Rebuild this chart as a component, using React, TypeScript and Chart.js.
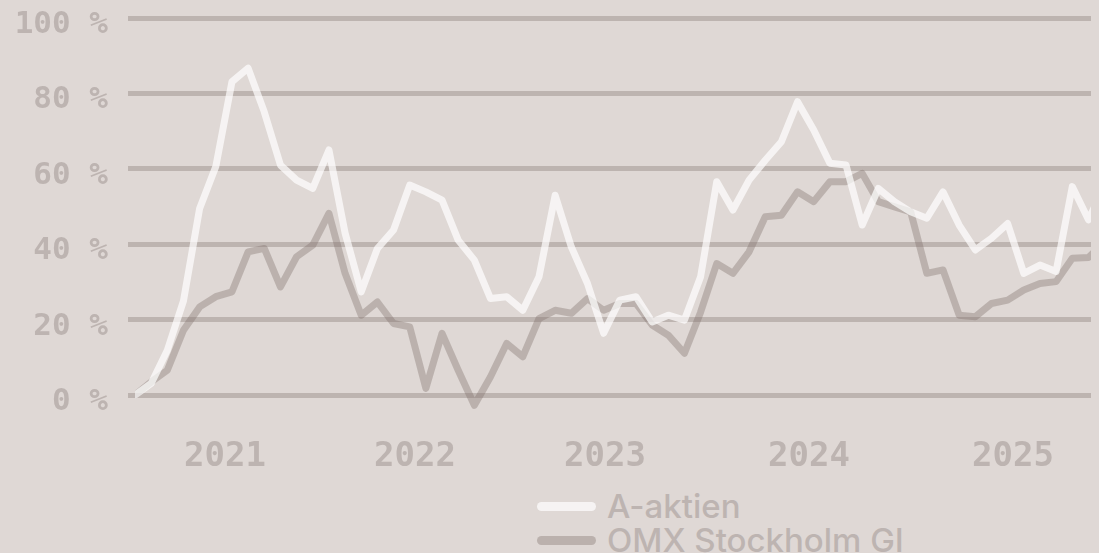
import React, { useEffect, useRef } from "react";
import { Chart, registerables } from "chart.js";

Chart.register(...registerables);

// ---- data (cumulative return, %) ----
const seriesNames = ["A-aktien", "OMX Stockholm GI"];

const aktienValues = [
  0, 3.1, 11.9, 25, 49.5, 60.6, 83.1, 86.7, 75.1, 61.0,
  57.0, 54.8, 65.0, 43, 27.4, 38.9, 43.8, 55.7, 53.9, 51.7,
  41.1, 35.8, 25.6, 26.1, 22.5, 31.4, 53.0, 39.3, 29.6, 16.4,
  25.2, 26.1, 19.4, 21.2, 19.9, 31.4, 56.6, 49.1, 57.0, 62.3,
  67.2, 77.8, 70.3, 61.5, 61.0, 45.1, 54.8, 51.3, 48.6, 46.9,
  53.9, 45.1, 38.5, 41.6, 45.5, 32.3, 34.5, 32.8, 55.3, 46.5,
  55.5,
];

const omxValues = [
  0, 3.5, 6.6, 17.2, 23.4, 26.1, 27.4, 38.0, 38.9, 28.7,
  36.7, 39.8, 48.2, 32.3, 21.2, 24.7, 19.0, 18.1, 1.8, 16.4,
  6.6, -2.7, 4.9, 13.7, 10.2, 20.3, 22.5, 21.7, 25.6, 22.5,
  24.3, 24.3, 18.6, 15.9, 11.1, 22, 34.9, 32.3, 38.0, 47.3,
  47.7, 53.9, 51.3, 56.6, 56.6, 58.8, 51.3, 49.9, 48.6, 32.3,
  33.2, 21.2, 20.8, 24.3, 25.2, 27.9, 29.6, 30.1, 36.3, 36.5,
  40.6,
];

// x-axis year labels and where they sit along the (monthly) index axis
const yearTickLabels = ["2021", "2022", "2023", "2024", "2025"];
const yearTickPositions = [5.57, 17.33, 29.08, 41.71, 54.33];
const xAxisMax = 75;

// y-axis ticks
const yTickValues = [0, 20, 40, 60, 80, 100];
const yMin = -5;
const yMax = 100;

// ---- styles ----
const BG = "#dfd8d5";
const TEXT = "#bdb4b1";
const GRID = "rgba(120,105,100,0.33)";
const WHITE_LINE = "rgba(255,255,255,0.7)";
const GRAY_LINE = "rgba(120,105,100,0.35)";
const seriesColors = [WHITE_LINE, GRAY_LINE];

export default function App() {
  const canvasRef = useRef<HTMLCanvasElement | null>(null);

  useEffect(() => {
    document.documentElement.style.background = BG;
    document.body.style.background = BG;
    const canvas = canvasRef.current;
    if (!canvas) return;
    const chart = new Chart(canvas, {
      type: "line",
      data: {
        datasets: [
          {
            label: seriesNames[0],
            data: aktienValues.map((v, i) => ({ x: i, y: v })),
            borderColor: seriesColors[0],
            borderWidth: 7,
            pointRadius: 0,
            tension: 0,
            borderCapStyle: "round",
            borderJoinStyle: "round",
          },
          {
            label: seriesNames[1],
            data: omxValues.map((v, i) => ({ x: i, y: v })),
            borderColor: seriesColors[1],
            borderWidth: 7,
            pointRadius: 0,
            tension: 0,
            borderCapStyle: "round",
            borderJoinStyle: "round",
          },
        ],
      },
      options: {
        animation: false,
        responsive: false,
        events: [],
        layout: { padding: { top: 10, right: 12, left: 0, bottom: 0 } },
        plugins: {
          legend: { display: false },
          tooltip: { enabled: false },
        },
        scales: {
          x: {
            type: "linear",
            min: 0,
            max: xAxisMax,
            grid: { display: false },
            border: { display: false },
            afterBuildTicks: (s: any) => {
              s.ticks = yearTickPositions.map((v) => ({ value: v }));
            },
            afterFit: (s: any) => {
              s.height = 60;
              s.paddingLeft = 0;
              s.paddingRight = 0;
            },
            ticks: {
              autoSkip: false,
              maxRotation: 0,
              minRotation: 0,
              padding: 15,
              color: TEXT,
              font: { family: "'DejaVu Sans Mono', monospace", size: 34, weight: "bold" },
              callback: (_v: any, i: number) => yearTickLabels[i],
            },
          },
          y: {
            type: "linear",
            min: yMin,
            max: yMax,
            afterBuildTicks: (s: any) => {
              s.ticks = yTickValues.map((v) => ({ value: v }));
            },
            afterFit: (s: any) => {
              s.width = 127;
              s.paddingTop = 0;
              s.paddingBottom = 0;
            },
            grid: { color: GRID, lineWidth: 5, drawTicks: true, tickLength: 7 },
            border: { display: false },
            ticks: {
              padding: 20,
              labelOffset: 7,
              color: TEXT,
              font: { family: "'DejaVu Sans Mono', monospace", size: 31, weight: "bold" },
              callback: (v: any) => v + " %",
            },
          },
        },
      },
    });
    return () => chart.destroy();
  }, []);

  return (
    <div style={{ position: "relative", width: 1091, height: 545, overflow: "hidden", background: BG }}>
      <canvas ref={canvasRef} width={1351} height={466} style={{ display: "block", width: 1351, height: 466 }} />
      <div style={{ position: "absolute", left: 529, top: 482, display: "flex", flexDirection: "column" }}>
        {seriesNames.map((name, i) => (
          <div key={name} style={{ display: "flex", alignItems: "center", height: 33.6 }}>
            <span
              style={{
                display: "inline-block",
                width: 59,
                height: 9,
                borderRadius: 4.5,
                background: seriesColors[i],
                marginRight: 11,
              }}
            />
            <span
              style={{
                fontFamily: "Inter, sans-serif",
                fontWeight: 500,
                fontSize: 33,
                lineHeight: "33.6px",
                color: TEXT,
                whiteSpace: "nowrap",
              }}
            >
              {name}
            </span>
          </div>
        ))}
      </div>
    </div>
  );
}
